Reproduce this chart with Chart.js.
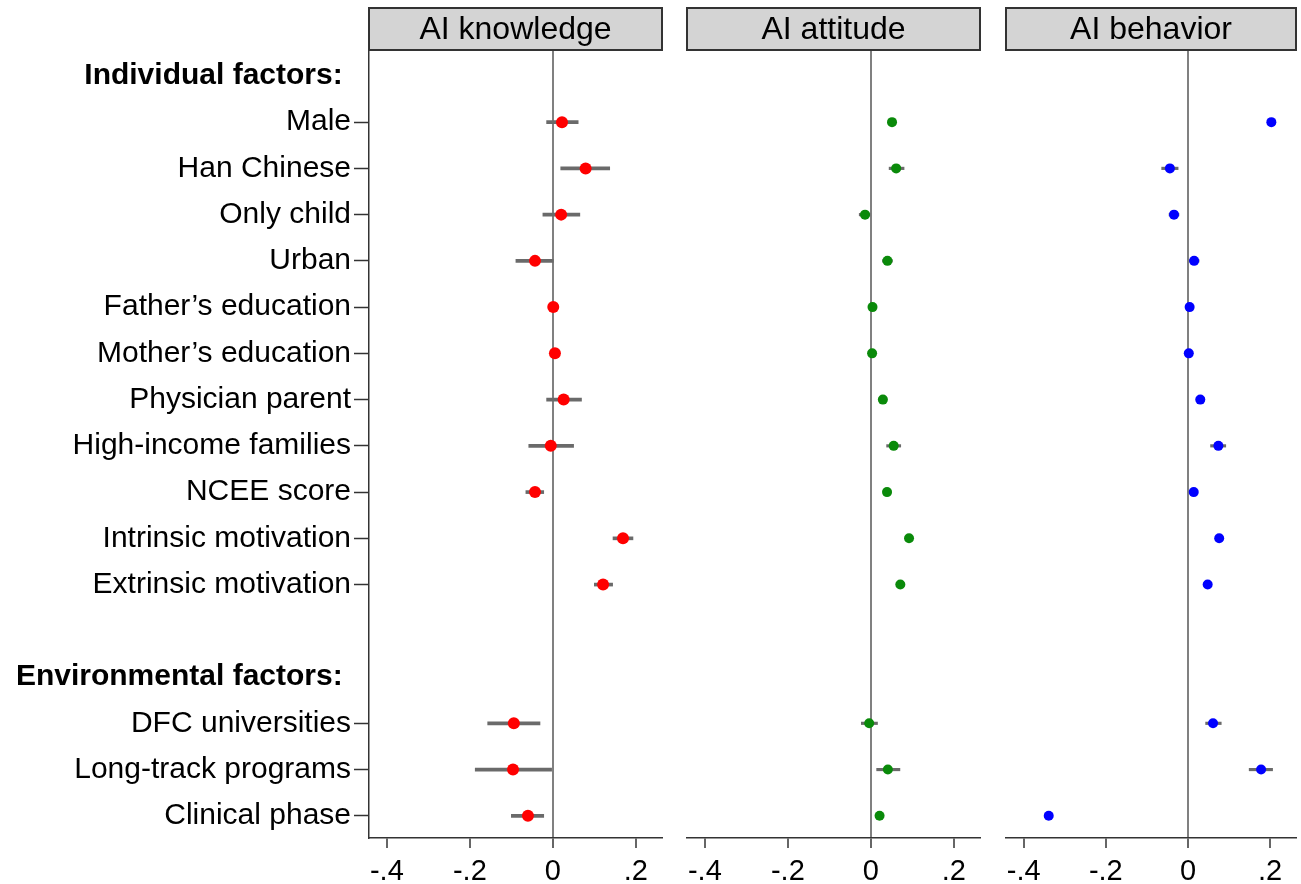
<!DOCTYPE html>
<html>
<head>
<meta charset="utf-8">
<script src="https://cdn.jsdelivr.net/npm/chart.js@4.4.1/dist/chart.umd.min.js"></script>
<style>
  body { margin: 0; background: #fff; }
  .panel { position: absolute; top: 0; }
</style>
</head>
<body>
<div class="panel" style="left:0px"><canvas id="knowledge" width="668" height="884"></canvas></div>
<div class="panel" style="left:680px"><canvas id="attitude" width="305" height="884"></canvas></div>
<div class="panel" style="left:998px"><canvas id="behavior" width="303" height="884"></canvas></div>
<script>
// rows top to bottom, headers and the blank spacer carry no values
var rowLabels = ['Individual factors:', 'Male', 'Han Chinese', 'Only child', 'Urban',
    'Father\u2019s education', 'Mother\u2019s education', 'Physician parent', 'High-income families',
    'NCEE score', 'Intrinsic motivation', 'Extrinsic motivation', '',
    'Environmental factors:', 'DFC universities', 'Long-track programs', 'Clinical phase'];
var headerRows = [0, 12, 13];
var xTicks = [-0.4, -0.2, 0, 0.2];

var knowledgeEst = [null, 0.022, 0.079, 0.020, -0.043, 0.001, 0.005, 0.026, -0.005, -0.043, 0.169, 0.121, null, null, -0.094, -0.096, -0.060];
var knowledgeLo  = [null, -0.015, 0.019, -0.024, -0.089, -0.006, -0.002, -0.015, -0.058, -0.065, 0.145, 0.100, null, null, -0.157, -0.187, -0.100];
var knowledgeHi  = [null, 0.061, 0.137, 0.065, 0.001, 0.008, 0.012, 0.069, 0.050, -0.022, 0.193, 0.144, null, null, -0.031, -0.003, -0.022];

var attitudeEst = [null, 0.051, 0.061, -0.014, 0.040, 0.004, 0.003, 0.029, 0.055, 0.039, 0.092, 0.071, null, null, -0.004, 0.041, 0.021];
var attitudeLo  = [null, 0.042, 0.044, -0.028, 0.028, -0.002, -0.003, 0.020, 0.038, 0.031, 0.084, 0.063, null, null, -0.023, 0.014, 0.013];
var attitudeHi  = [null, 0.060, 0.080, -0.002, 0.052, 0.010, 0.009, 0.038, 0.072, 0.047, 0.100, 0.079, null, null, 0.016, 0.070, 0.029];

var behaviorEst = [null, 0.203, -0.044, -0.034, 0.015, 0.004, 0.002, 0.030, 0.074, 0.014, 0.076, 0.048, null, null, 0.061, 0.178, -0.339];
var behaviorLo  = [null, 0.195, -0.064, -0.046, 0.003, -0.003, -0.005, 0.020, 0.055, 0.006, 0.068, 0.040, null, null, 0.043, 0.149, -0.347];
var behaviorHi  = [null, 0.211, -0.024, -0.022, 0.027, 0.011, 0.009, 0.040, 0.092, 0.022, 0.084, 0.056, null, null, 0.081, 0.206, -0.331];

var FONT = "'Liberation Sans', Arial, Helvetica, sans-serif";

var stripPlugin = {
    id: 'strip',
    afterDraw: function(chart, args, opts) {
        var a = chart.chartArea, ctx = chart.ctx;
        ctx.save();
        ctx.fillStyle = '#d4d4d4';
        ctx.fillRect(a.left, a.top - 42, a.right - a.left, 42);
        ctx.strokeStyle = '#333';
        ctx.lineWidth = 2;
        ctx.strokeRect(a.left, a.top - 42, a.right - a.left, 42);
        ctx.fillStyle = '#000';
        ctx.font = '32px ' + FONT;
        ctx.textAlign = 'center';
        ctx.textBaseline = 'middle';
        ctx.fillText(opts.text, (a.left + a.right) / 2, a.top - 20);
        ctx.restore();
    }
};

function fmtTick(v) {
    if (v === 0) return '0';
    return (v < 0 ? '-' : '') + String(Math.abs(v)).replace('0.', '.');
}

function makePanel(id, title, est, lo, hi, color, radius, barW, withLabels, pad) {
    var points = [], bars = [];
    for (var i = 0; i < rowLabels.length; i++) {
        if (est[i] === null) continue;
        points.push({x: est[i], y: i});
        bars.push({y: i, x: [lo[i], hi[i]]});
    }
    return new Chart(document.getElementById(id), {
        type: 'bar',
        data: {
            datasets: [{
                type: 'scatter',
                data: points,
                backgroundColor: color,
                borderWidth: 0,
                pointRadius: radius,
                pointHoverRadius: radius,
                order: 0
            }, {
                type: 'bar',
                indexAxis: 'y',
                data: bars,
                backgroundColor: '#6a6a6a',
                borderWidth: 0,
                barThickness: barW,
                order: 1
            }]
        },
        options: {
            responsive: false,
            animation: false,
            layout: {padding: {top: 50, left: pad[0], right: pad[1], bottom: 0}},
            plugins: {legend: {display: false}, tooltip: {enabled: false}, strip: {text: title}},
            scales: {
                x: {
                    type: 'linear',
                    offset: false,
                    min: -0.443,
                    max: 0.263,
                    afterBuildTicks: function(scale) {
                        scale.ticks = xTicks.map(function(v) { return {value: v}; });
                    },
                    afterFit: function(scale) { scale.height = 46; },
                    border: {display: true, color: '#333', width: 1.5},
                    grid: {
                        offset: false,
                        drawOnChartArea: true,
                        color: function(c) { return c.tick && c.tick.value === 0 ? '#808080' : 'rgba(0,0,0,0)'; },
                        lineWidth: 2,
                        tickColor: '#333',
                        tickWidth: 1.5,
                        tickLength: 10
                    },
                    ticks: {
                        color: '#000',
                        font: {family: FONT, size: 29},
                        padding: 7,
                        maxRotation: 0,
                        autoSkip: false,
                        callback: fmtTick
                    }
                },
                y: {
                    type: 'linear',
                    offset: false,
                    reverse: true,
                    min: -0.56,
                    max: 16.48,
                    display: withLabels,
                    afterBuildTicks: function(scale) {
                        scale.ticks = rowLabels.map(function(l, i) { return {value: i}; });
                    },
                    afterFit: function(scale) { scale.width = withLabels ? 369 : 0; },
                    border: {display: true, color: '#333', width: 1.5},
                    grid: {
                        offset: false,
                        drawOnChartArea: false,
                        tickLength: 15,
                        tickWidth: 1.5,
                        tickColor: function(c) { return headerRows.indexOf(c.index) >= 0 ? 'rgba(0,0,0,0)' : '#333'; }
                    },
                    ticks: {
                        color: '#000',
                        autoSkip: false,
                        padding: 3,
                        font: function(c) {
                            var bold = headerRows.indexOf(c.index) >= 0;
                            return {family: FONT, size: 30, weight: bold ? 'bold' : 'normal'};
                        },
                        callback: function(v) {
                            var l = rowLabels[v];
                            return (v === 0 || v === 13) ? l + ' ' : l;
                        }
                    }
                }
            }
        },
        plugins: [stripPlugin]
    });
}

makePanel('knowledge', 'AI knowledge', knowledgeEst, knowledgeLo, knowledgeHi, '#ff0000', 6, 3, true, [0, 6]);
makePanel('attitude', 'AI attitude', attitudeEst, attitudeLo, attitudeHi, '#0a8a0a', 5, 2.5, false, [7, 5]);
makePanel('behavior', 'AI behavior', behaviorEst, behaviorLo, behaviorHi, '#0000ff', 5, 2.5, false, [8, 3]);
</script>
</body>
</html>
